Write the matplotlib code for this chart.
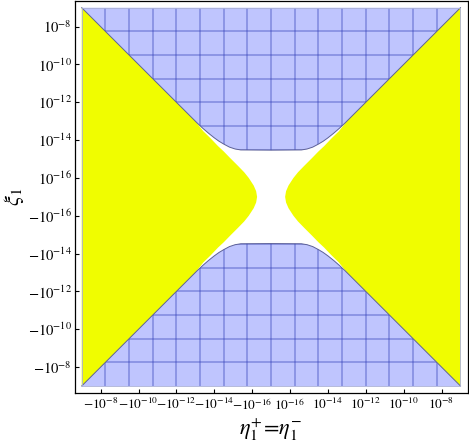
import numpy as np
import matplotlib
matplotlib.use("Agg")
import matplotlib.pyplot as plt
from matplotlib.patches import Polygon
from matplotlib.collections import LineCollection

plt.rcParams['mathtext.fontset'] = 'stix'
plt.rcParams['font.family'] = ['STIXGeneral', 'Liberation Serif', 'DejaVu Serif']

# axes are in "decades above 1e-17", signed: u = sign(x) * (log10|x| + 17)
floor_exp = -17
plot_half = 10.0

# tick exponents (left/bottom negative side, right/top positive side)
neg_exps = [-8, -10, -12, -14, -16]
pos_exps = [-16, -14, -12, -10, -8]

# yellow wedge edge (right wedge, upper half): v -> u
yel_v = np.array([0.0, 0.3, 0.6, 1.0, 1.3, 1.63, 2.05, 2.4, 2.68, 3.1, 3.47, 4.0, 10.0])
yel_u = np.array([0.74, 0.79, 0.92, 1.18, 1.42, 1.74, 2.16, 2.5, 2.8, 3.2, 3.58, 4.0, 10.0])

# blue region lower edge (upper region, right half): u -> v
blue_u = np.array([0.0, 1.6, 1.9, 2.2, 2.5, 2.75, 3.0, 3.3, 3.6, 3.9, 10.0])
blue_v = np.array([2.47, 2.48, 2.53, 2.63, 2.79, 2.94, 3.12, 3.36, 3.62, 3.9, 10.0])

yellow = '#f0fd00'
blue_fill = '#bfc5fe'
mesh_col = (0.2, 0.25, 0.72, 0.36)
edge_col = '#5c6098'


def tick_label(sign, e):
    s = '-' if sign < 0 else ''
    return r'$%s10^{%d}$' % (s, e)


fig = plt.figure(figsize=(4.69, 4.45), dpi=100)
ax = fig.add_axes([74.7 / 469, 52 / 445, 392.8 / 469, 392.3 / 445])

lim = 10.37
ax.set_xlim(-lim, lim)
ax.set_ylim(-lim, lim)

# blue regions (top and bottom)
cu = np.r_[-blue_u[::-1], blue_u[1:]]
cv = np.r_[blue_v[::-1], blue_v[1:]]
blue_patches = []
for s in (1, -1):
    p = Polygon(np.column_stack([cu, s * cv]), closed=True, facecolor=blue_fill,
                edgecolor='none', zorder=1)
    ax.add_patch(p)
    blue_patches.append(p)

# mesh lines inside the blue regions
mesh = np.linspace(-plot_half, plot_half, 17)[1:-1]
for p in blue_patches:
    segs = [[(m, -plot_half), (m, plot_half)] for m in mesh]
    segs += [[(-plot_half, m), (plot_half, m)] for m in mesh]
    lc = LineCollection(segs, colors=[mesh_col], linewidths=1.4, zorder=2)
    ax.add_collection(lc)
    lc.set_clip_path(p)

# yellow wedges
yv = np.r_[-yel_v[::-1], yel_v[1:]]
yu = np.r_[yel_u[::-1], yel_u[1:]]
for s in (1, -1):
    pts = np.column_stack([s * yu, yv])
    pts = np.vstack([pts, [s * plot_half, plot_half], [s * plot_half, -plot_half]])
    ax.add_patch(Polygon(pts, closed=True, facecolor=yellow, edgecolor='none', zorder=3))

# boundary of blue regions
for s in (1, -1):
    ax.plot(cu, s * cv, color=edge_col, lw=0.7, zorder=4)
ax.plot([-plot_half, plot_half, plot_half, -plot_half, -plot_half],
        [-plot_half, -plot_half, plot_half, plot_half, -plot_half],
        color='#aab0d6', lw=0.6, zorder=4)

# ticks
tick_pos = [-(e - floor_exp) for e in neg_exps] + [(e - floor_exp) for e in pos_exps]
tick_lab = [tick_label(-1, e) for e in neg_exps] + [tick_label(1, e) for e in pos_exps]
ax.set_xticks(tick_pos)
ax.set_xticklabels(tick_lab)
ax.set_yticks(tick_pos)
ax.set_yticklabels(tick_lab)
ax.tick_params(direction='in', length=3, width=0.8, colors='black')
ax.tick_params(axis='x', pad=3, labelsize=9.6)
ax.tick_params(axis='y', pad=2, labelsize=10.5)
for sp in ax.spines.values():
    sp.set_linewidth(0.9)

ax.set_xlabel(r'$\eta_1^{+}\!=\!\eta_1^{-}$', fontsize=16)
ax.set_ylabel(r'$\xi_1$', fontsize=16)
ax.xaxis.set_label_coords(0.5, -0.06)
ax.yaxis.set_label_coords(-0.125, 0.5)

fig.savefig('out.png', dpi=100)
